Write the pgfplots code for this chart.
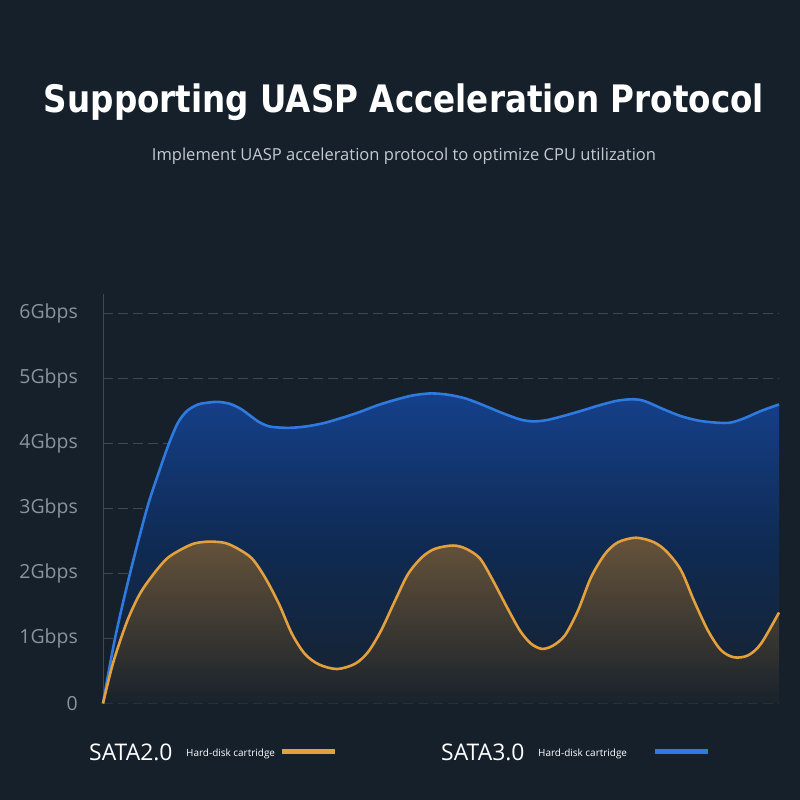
\documentclass[border=0pt]{standalone}
\usepackage{pgfplots}
\pgfplotsset{compat=1.18}
\usepackage{fontspec}
\usepackage{graphicx}
\setmainfont{Open Sans}
\newfontfamily\titlefont{DejaVu Sans}[BoldFont={DejaVu Sans Bold}]
\definecolor{bg}{HTML}{16202A}
\definecolor{blueline}{HTML}{2F7AE0}
\definecolor{orangeline}{HTML}{E3A03C}
\definecolor{bluetop}{HTML}{15408A}
\definecolor{bluemid}{HTML}{0F2A52}
\definecolor{bluebot}{HTML}{17222D}
\definecolor{orangetop}{HTML}{66533A}
\definecolor{orangebot}{HTML}{19222B}
\definecolor{gridc}{HTML}{3C4852}
\definecolor{tickc}{HTML}{8A949E}
\definecolor{subc}{HTML}{C4CAD0}
\pgfplotstableread{
x y
0 0
12 1
27 2
44 3
55 3.52
66 4.0
75 4.32
84 4.50
95 4.60
106 4.63
115 4.64
127 4.61
138 4.53
147 4.43
156 4.33
167 4.26
185 4.24
202 4.26
220 4.31
238 4.39
256 4.48
274 4.585
292 4.67
310 4.74
328 4.77
345 4.75
363 4.69
381 4.585
399 4.47
417 4.37
430 4.34
444 4.36
462 4.43
480 4.51
497 4.59
515 4.66
531 4.68
542 4.65
560 4.53
578 4.42
596 4.35
614 4.32
627 4.32
640 4.38
658 4.50
676 4.60
}\sataThree
\pgfplotstableread{
x y
0 0
10 0.62
24 1.26
37 1.69
51 2.0
64 2.23
77 2.36
91 2.46
106 2.49
122 2.47
135 2.38
149 2.23
162 1.94
176 1.53
189 1.07
202 0.76
216 0.60
234 0.53
252 0.61
265 0.79
278 1.12
292 1.58
305 1.99
319 2.25
332 2.38
350 2.43
363 2.38
377 2.23
390 1.89
404 1.48
417 1.12
428 0.92
439 0.84
450 0.89
462 1.05
475 1.43
488 1.94
502 2.30
515 2.48
533 2.55
551 2.48
564 2.33
578 2.05
591 1.58
605 1.12
618 0.82
631 0.71
645 0.74
658 0.92
676 1.40
}\sataTwo
\begin{document}
\begin{tikzpicture}[x=1bp,y=1bp]
\useasboundingbox (0,0) rectangle (800,800);
\fill[bg] (0,0) rectangle (800,800);
\node[text=white, anchor=base] at (404,687) {\resizebox{720bp}{\height}{\fontsize{38}{40}\selectfont\titlefont\bfseries Supporting UASP Acceleration Protocol}};
\node[text=subc, anchor=base] at (404,639) {\fontsize{16.6}{19}\selectfont Implement UASP acceleration protocol to optimize CPU utilization};
\begin{axis}[
  at={(103,148.5)}, anchor=south west,
  scale only axis, width=676bp, height=409.5bp,
  xmin=0, xmax=676, ymin=0, ymax=6.3,
  axis x line=none,
  axis y line*=left,
  y axis line style={draw=gridc, line width=0.8pt, -},
  ytick={0,1,2,3,4,5,6},
  yticklabels={0,1Gbps,2Gbps,3Gbps,4Gbps,5Gbps,6Gbps},
  yticklabel style={font=\fontsize{19.5}{21}\selectfont, text=tickc, anchor=east, inner sep=0pt, xshift=-25bp},
  major tick length=0pt,
  ymajorgrids, grid style={draw=gridc, dash pattern=on 10bp off 5bp, line width=0.9pt},
  clip=false,
]
\addplot[draw=none, top color=bluetop, bottom color=bluebot, middle color=bluemid, smooth, tension=0.5] table {\sataThree} \closedcycle;
\addplot[draw=none, top color=orangetop, bottom color=orangebot, smooth, tension=0.5] table {\sataTwo} \closedcycle;
\addplot[blueline, line width=2.6pt, smooth, tension=0.5] table {\sataThree};
\addplot[orangeline, line width=2.6pt, smooth, tension=0.5] table {\sataTwo};
\end{axis}
% legend
\node[text=white, anchor=base west, inner sep=0pt] at (89,39) {\fontsize{23}{26}\selectfont SATA2.0};
\node[text=white, anchor=base west, inner sep=0pt] at (186,43) {\fontsize{10}{12}\selectfont Hard-disk cartridge};
\draw[orangeline, line width=5bp] (282,48) -- (335,48);
\node[text=white, anchor=base west, inner sep=0pt] at (441,39) {\fontsize{23}{26}\selectfont SATA3.0};
\node[text=white, anchor=base west, inner sep=0pt] at (538,43) {\fontsize{10}{12}\selectfont Hard-disk cartridge};
\draw[blueline, line width=5bp] (655,48) -- (708,48);
\end{tikzpicture}
\end{document}
